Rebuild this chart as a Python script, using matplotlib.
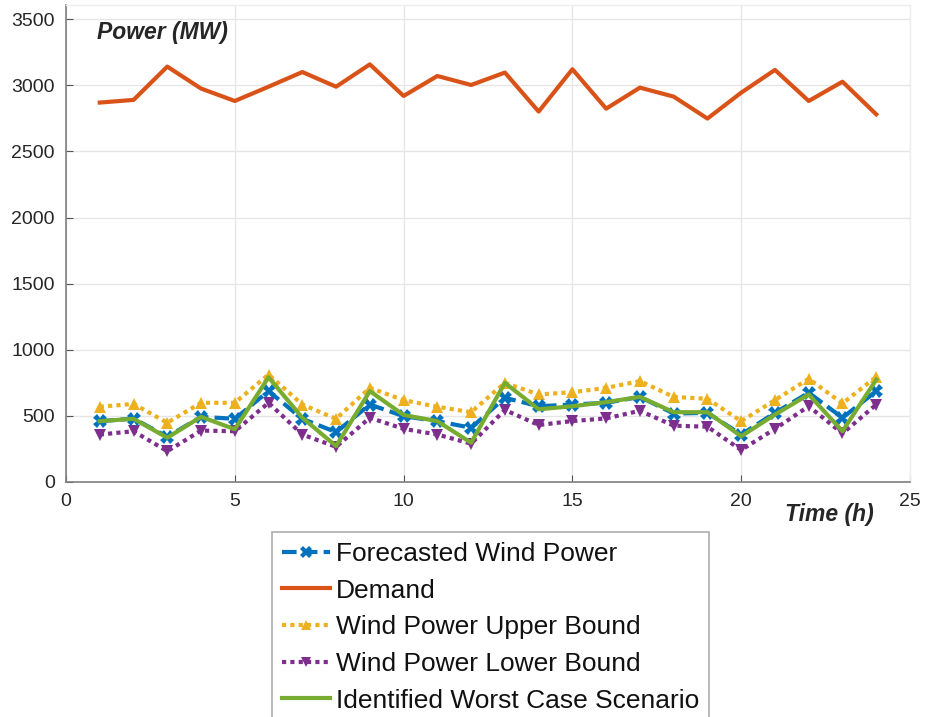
import matplotlib
matplotlib.use("Agg")
import matplotlib.pyplot as plt
import numpy as np

plt.rcParams['font.family'] = ['Liberation Sans', 'DejaVu Sans']

hours = list(range(1, 25))

demand = [2870, 2890, 3142, 2976, 2882, 2990, 3101, 2990, 3159, 2920, 3071, 3003,
          3097, 2802, 3122, 2824, 2983, 2915, 2749, 2945, 3117, 2882, 3028, 2781]
forecast = [460, 480, 342, 493, 478, 687, 478, 377, 586, 498, 460, 410,
            637, 573, 586, 599, 644, 518, 523, 359, 523, 675, 486, 687]
upper = [569, 591, 448, 599, 599, 813, 586, 478, 712, 619, 569, 528,
         750, 662, 679, 712, 763, 644, 629, 460, 619, 781, 594, 796]
lower = [359, 384, 233, 389, 384, 599, 359, 266, 486, 402, 359, 290,
         545, 431, 461, 481, 539, 426, 418, 242, 402, 573, 367, 586]
worst = [460, 478, 335, 493, 399, 792, 486, 272, 687, 507, 460, 297,
         750, 550, 573, 604, 644, 528, 528, 346, 510, 662, 384, 774]

labels = ['Forecasted Wind Power', 'Demand', 'Wind Power Upper Bound',
          'Wind Power Lower Bound', 'Identified Worst Case Scenario']

fig = plt.figure(figsize=(9.26, 7.17), dpi=100)
ax = fig.add_axes([66/926, 1-482/717, (910-66)/926, (482-5)/717])

h1, = ax.plot(hours, forecast, color='#0072BD', ls=(0, (3.5, 1.5)), lw=3,
              marker='X', ms=10, mew=0, zorder=4)
h2, = ax.plot(hours, demand, color='#D95319', ls='-', lw=3, zorder=3)
h3, = ax.plot(hours, upper, color='#EDB120', ls=(0, (1, 1)), lw=3,
              marker='^', ms=9, mew=0, zorder=3)
h4, = ax.plot(hours, lower, color='#7E2F8E', ls=(0, (1, 1)), lw=3,
              marker='v', ms=9, mew=0, zorder=3)
h5, = ax.plot(hours, worst, color='#77AC30', ls='-', lw=3, zorder=5)

ax.set_xlim(0, 25)
ax.set_ylim(0, 3608)
ax.set_xticks([0, 5, 10, 15, 20, 25])
ax.set_yticks(np.arange(0, 3501, 500))
ax.grid(True, color='#e6e6e6', lw=1)
ax.set_axisbelow(True)
ax.tick_params(direction='in', length=5, colors='#555555', labelcolor='#262626',
               labelsize=14, pad=8)
for s in ('left', 'bottom'):
    ax.spines[s].set_color('#7f7f7f')
    ax.spines[s].set_linewidth(1.2)
for s in ('top', 'right'):
    ax.spines[s].set_color('#eeeeee')
    ax.spines[s].set_linewidth(1.0)

ax.text(97/926, 1-32/717, 'Power (MW)', transform=fig.transFigure,
        fontsize=16.5, fontweight='bold', fontstyle='italic', color='#262626',
        ha='left', va='center')
ax.text(785/926, 1-515/717, 'Time (h)', transform=fig.transFigure,
        fontsize=16.5, fontweight='bold', fontstyle='italic', color='#262626',
        ha='left', va='center')

leg = fig.legend([h1, h2, h3, h4, h5], labels, loc='upper left',
                 bbox_to_anchor=(272/926, 1-532/717), fontsize=19,
                 frameon=True, fancybox=False, edgecolor='#9a9a9a',
                 handlelength=1.8, handletextpad=0.25, borderpad=0.38,
                 labelspacing=0.48, borderaxespad=0, markerscale=0.8)
leg.get_frame().set_linewidth(1.2)
for t in leg.get_texts():
    t.set_color('#111111')

fig.savefig('out.png', dpi=100)
